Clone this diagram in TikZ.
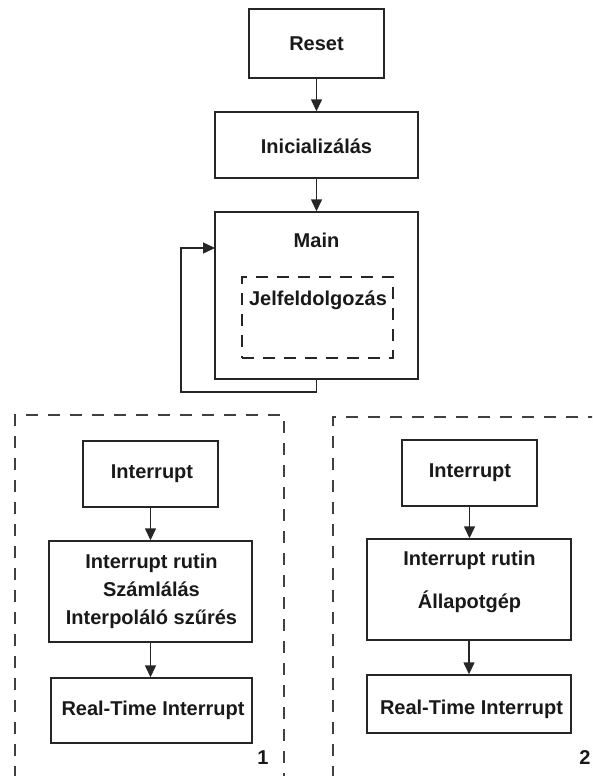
\documentclass[tikz,border=0pt]{standalone}
\usepackage{fontspec}
\setmainfont{Liberation Sans}
\usetikzlibrary{arrows.meta}
\begin{document}
\begin{tikzpicture}[x=1pt,y=-1pt,
  lbl/.style={font=\bfseries\fontsize{20}{28}\selectfont, text=black!90, inner sep=0pt, align=center},
  box/.style={draw=black!85, line width=1.4pt, inner sep=0pt},
  dashbox/.style={draw=black!85, line width=1.4pt, inner sep=0pt, dash pattern=on 12pt off 9pt},
  panel/.style={draw=black!75, line width=1.5pt, dash pattern=on 12pt off 10pt},
  arr/.style={draw=black!85, line width=1.4pt, -{Triangle[length=12pt,width=11pt]}},
  wire/.style={line width=1.4pt}]
\useasboundingbox (0,0) rectangle (592,776);
\clip (0,0) rectangle (592,776);

% main program flow
\node[box, minimum width=135pt, minimum height=69pt] (reset) at (316.5,43.5) {};
\node[lbl] (resettxt) at (316.5,43.5) {Reset};
\node[box, minimum width=203pt, minimum height=66pt] (init) at (316.5,145) {};
\node[lbl] (inittxt) at (316.5,146) {Inicializálás};
\node[box, minimum width=203pt, minimum height=167pt] (main) at (316.5,295.5) {};
\node[lbl] (maintxt) at (316.5,240) {Main};
\node[dashbox, minimum width=151pt, minimum height=81pt] (jel) at (317.5,317.5) {};
\node[lbl] (jeltxt) at (318,300) {Jelfeldolgozás};

\draw[arr] (reset) -- (init);
\draw[arr] (init) -- (main);

% endless main loop
\coordinate (loopbl) at (181,392);
\coordinate (loopin) at (215,248);
\draw[arr] (main.south) |- (loopbl) |- (loopin);

% interrupt panel 1
\draw[panel] (15,800) -- (15,415) -- (284,415) -- (284,800);
\node[box, minimum width=135pt, minimum height=66pt] (int1) at (150.5,474) {};
\node[lbl] (int1txt) at (152,474) {Interrupt};
\node[box, minimum width=203pt, minimum height=101pt] (rut1) at (150.5,591.5) {};
\node[lbl] (rut1txt) at (151.5,591) {Interrupt rutin\\Számlálás\\Interpoláló szűrés};
\node[box, minimum width=201pt, minimum height=65pt] (rti1) at (151.5,710.5) {};
\node[lbl] (rti1txt) at (153,710) {Real-Time Interrupt};
\node[lbl] (num1) at (263,758) {1};

\draw[arr] (int1.south) -- (int1.south |- rut1.north);
\draw[arr] (rut1.south) -- (rut1.south |- rti1.north);

% interrupt panel 2
\draw[panel] (333,800) -- (333,417) -- (620,417);
\node[box, minimum width=135pt, minimum height=66pt] (int2) at (469.5,473) {};
\node[lbl] (int2txt) at (470,473) {Interrupt};
\node[box, minimum width=204pt, minimum height=101pt] (rut2) at (469,589.5) {};
\node[lbl, font=\bfseries\fontsize{20}{43}\selectfont] (rut2txt) at (469.5,581.5) {Interrupt rutin\\Állapotgép};
\node[box, minimum width=204pt, minimum height=58pt] (rti2) at (469,704) {};
\node[lbl] (rti2txt) at (471.5,709) {Real-Time Interrupt};
\node[lbl] (num2) at (585,758) {2};

\draw[arr] (int2.south) -- (int2.south |- rut2.north);
\draw[arr] (rut2.south) -- (rut2.south |- rti2.north);
\end{tikzpicture}
\end{document}
